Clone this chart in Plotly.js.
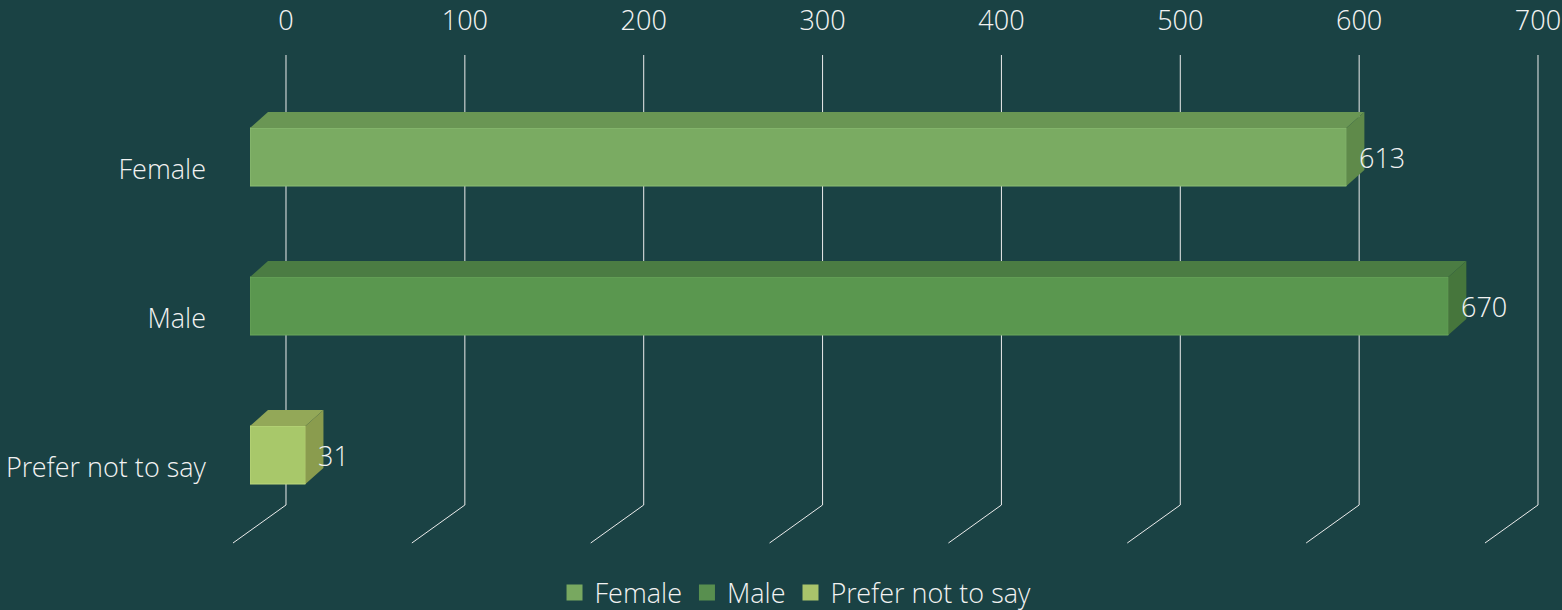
<!DOCTYPE html>
<html>
<head>
<meta charset="utf-8">
<script src="https://cdn.plot.ly/plotly-3.0.1.min.js"></script>
<style>
  html, body { margin: 0; padding: 0; background: #1a4244; }
  #chart { width: 1562px; height: 610px; }
</style>
</head>
<body>
<div id="chart"></div>
<script>
// Respondents by gender
const categories = ['Female', 'Male', 'Prefer not to say'];
const counts = [613, 670, 31];
const axisTicks = [0, 100, 200, 300, 400, 500, 600, 700];

// Face colours for the extruded bars: front, top, right side, edge
const frontColors = ['#7aab62', '#5a974f', '#a8c86a'];
const topColors = ['#6a9654', '#4b7c43', '#93a858'];
const sideColors = ['#5f8a4a', '#46763c', '#8a9c4e'];
const edgeColors = ['#8cbd74', '#6aa65c', '#bcd87c'];
const legendColors = ['#78a860', '#588f4f', '#a9c46b'];

const W = 1562, H = 610;
const BG = '#1a4244';
const GRID = '#ececec';
const FONT = { family: '"Open Sans Light", "Open Sans", sans-serif', size: 27, color: '#f2f2f2', weight: 300 };

// Geometry (pixels)
const X_RANGE = [0, 700];
const barLeft = 250, barRight = 1502;        // front plane of the bars
const wallLeft = 286;                         // back wall where the grid sits
const wallTop = 55, wallBottom = 505;
const rowTop = 82.5, rowBottom = 529.5;
const BAR_W = 58 / 149;
const HALF = 29;                              // half bar thickness in px
const DEPTH_X = 18, DEPTH_Y = 16;             // bar extrusion
const FLOOR_DX = -53, FLOOR_DY = 38;          // floor grid lines

const fx = px => px / W;
const fy = py => 1 - py / H;
const pxPerUnit = (barRight - barLeft) / (X_RANGE[1] - X_RANGE[0]);
const depthUnits = DEPTH_X / pxPerUnit;

// grid axis: extend the range a little so floor lines are not clipped
const gridLo = -40, gridHi = 710;
const gridDomain = [fx(wallLeft + gridLo * pxPerUnit), fx(wallLeft + gridHi * pxPerUnit)];

const traces = categories.map((c, i) => ({
  type: 'bar',
  orientation: 'h',
  name: c,
  legendgroup: c,
  showlegend: false,
  x: [counts[i]],
  y: [c],
  xaxis: 'x',
  yaxis: 'y',
  width: BAR_W,
  marker: { color: frontColors[i], line: { color: edgeColors[i], width: 1 } },
  hovertemplate: '%{y}: %{x}<extra></extra>'
}));

// legend entries with square swatches
categories.forEach((c, i) => {
  traces.push({
    type: 'scatter', mode: 'markers', name: c, legendgroup: c,
    x: [null], y: [null], xaxis: 'x', yaxis: 'y',
    marker: { symbol: 'square', size: 16, color: legendColors[i] },
    hoverinfo: 'skip'
  });
});

// anchor trace for the top value axis
traces.push({
  type: 'scatter', mode: 'markers', x: [0], y: [0.5],
  xaxis: 'x2', yaxis: 'y2', marker: { opacity: 0 },
  showlegend: false, hoverinfo: 'skip'
});

const shapes = [];

// back-wall and floor grid lines
axisTicks.forEach(t => {
  shapes.push({
    type: 'line', layer: 'below', xref: 'x2', yref: 'paper',
    x0: t, x1: t, y0: fy(wallBottom), y1: fy(wallTop),
    line: { color: GRID, width: 1 }
  });
  shapes.push({
    type: 'line', layer: 'below', xref: 'x2', yref: 'paper',
    xsizemode: 'pixel', xanchor: t, x0: 0, x1: FLOOR_DX,
    y0: fy(wallBottom), y1: fy(wallBottom + FLOOR_DY),
    line: { color: GRID, width: 1 }
  });
});

// top and side faces of each bar
categories.forEach((c, i) => {
  const v = counts[i];
  shapes.push({
    type: 'path', layer: 'above', xref: 'x', yref: 'y',
    ysizemode: 'pixel', yanchor: c,
    path: `M0,${HALF} L${v},${HALF} L${v + depthUnits},${HALF + DEPTH_Y} L${depthUnits},${HALF + DEPTH_Y} Z`,
    fillcolor: topColors[i], line: { width: 0 }
  });
  shapes.push({
    type: 'path', layer: 'above', xref: 'x', yref: 'y',
    ysizemode: 'pixel', yanchor: c,
    path: `M${v},${HALF} L${v},${-HALF} L${v + depthUnits},${-HALF + DEPTH_Y} L${v + depthUnits},${HALF + DEPTH_Y} Z`,
    fillcolor: sideColors[i], line: { width: 0 }
  });
});

// value labels
const annotations = categories.map((c, i) => ({
  xref: 'x', yref: 'y', x: counts[i], y: c,
  text: String(counts[i]), showarrow: false,
  xanchor: 'left', yanchor: 'middle', xshift: 11,
  font: FONT
}));

const layout = {
  width: W, height: H,
  margin: { l: 0, r: 0, t: 0, b: 0, autoexpand: false },
  paper_bgcolor: BG,
  plot_bgcolor: 'rgba(0,0,0,0)',
  font: FONT,
  showlegend: true,
  barmode: 'overlay',
  xaxis: {
    domain: [fx(barLeft), fx(barRight)], range: X_RANGE,
    visible: false, fixedrange: true
  },
  yaxis: {
    domain: [fy(rowBottom), fy(rowTop)],
    type: 'category', categoryorder: 'array', categoryarray: categories,
    range: [2.5, -0.5], showgrid: false, zeroline: false, showline: false,
    ticks: '', tickfont: FONT, ticklabelstandoff: 43, ticklabelshift: -13,
    fixedrange: true
  },
  xaxis2: {
    domain: gridDomain, range: [gridLo, gridHi], anchor: 'y2', side: 'top',
    tickmode: 'array', tickvals: axisTicks, ticktext: axisTicks.map(String),
    showgrid: false, zeroline: false, showline: false, ticks: '',
    tickfont: FONT, ticklabelstandoff: 19, fixedrange: true
  },
  yaxis2: {
    domain: [fy(wallBottom), fy(wallTop)], range: [0, 1], anchor: 'x2',
    visible: false, fixedrange: true
  },
  legend: {
    orientation: 'h', x: 0.5093, xanchor: 'center', y: fy(593), yanchor: 'middle',
    font: FONT, bgcolor: 'rgba(0,0,0,0)', traceorder: 'normal', itemwidth: 30
  },
  shapes: shapes,
  annotations: annotations
};

Plotly.newPlot('chart', traces, layout, { displayModeBar: false, responsive: false });
</script>
</body>
</html>
